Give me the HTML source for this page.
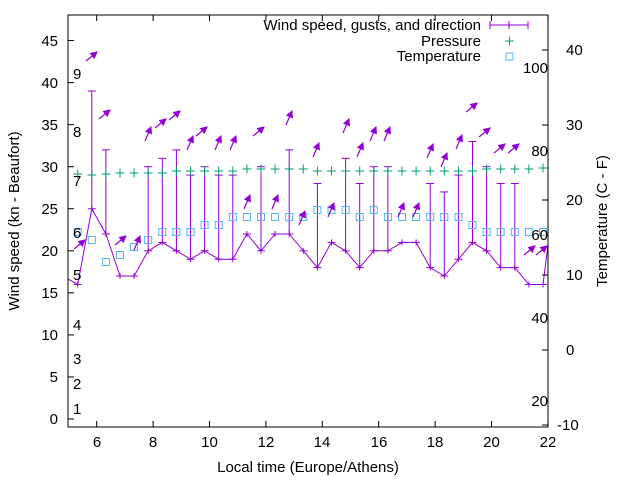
<!DOCTYPE html>
<html><head><meta charset="utf-8"><style>
html,body{margin:0;padding:0;background:#fff;}
svg{display:block;font-family:"Liberation Sans",sans-serif;}
</style></head><body>
<svg id="s" width="640" height="480" viewBox="0 0 640 480" xmlns="http://www.w3.org/2000/svg">
<defs><clipPath id="c"><rect x="68" y="15" width="480" height="412"/></clipPath></defs>
<g id="data" clip-path="url(#c)"></g>
<rect x="68" y="15" width="480" height="412" fill="none" stroke="#000" stroke-width="1"/>
<g id="ticks" stroke="#000" stroke-width="1"></g>
<g font-size="15" fill="#000">
<g text-anchor="end">
<text x="58" y="424">0</text><text x="58" y="382">5</text><text x="58" y="340">10</text><text x="58" y="298">15</text><text x="58" y="256">20</text><text x="58" y="214">25</text><text x="58" y="172">30</text><text x="58" y="130">35</text><text x="58" y="88">40</text><text x="58" y="46">45</text>
</g>
<g text-anchor="start">
<text x="557" y="430">-10</text><text x="566" y="355">0</text><text x="566" y="280">10</text><text x="566" y="205">20</text><text x="566" y="130">30</text><text x="566" y="55">40</text>
</g>
<g text-anchor="middle">
<text x="97" y="447">6</text><text x="153" y="447">8</text><text x="209.5" y="447">10</text><text x="266" y="447">12</text><text x="322" y="447">14</text><text x="379" y="447">16</text><text x="435" y="447">18</text><text x="491.5" y="447">20</text><text x="548" y="447">22</text>
</g>
<g text-anchor="start">
<text x="73" y="414">1</text><text x="73" y="389">2</text><text x="73" y="364">3</text><text x="73" y="330">4</text><text x="73" y="280">5</text><text x="73" y="238">6</text><text x="73" y="186">7</text><text x="73" y="137">8</text><text x="73" y="79">9</text>
</g>
<g text-anchor="end">
<text x="548" y="406">20</text><text x="548" y="323">40</text><text x="548" y="240">60</text><text x="548" y="156">80</text><text x="548" y="73">100</text>
</g>
<text x="308" y="472" text-anchor="middle">Local time (Europe/Athens)</text>
<text transform="translate(19,221) rotate(-90)" text-anchor="middle">Wind speed (kn - Beaufort)</text>
<text transform="translate(607,221) rotate(-90)" text-anchor="middle">Temperature (C - F)</text>
<g text-anchor="end">
<text x="481" y="30">Wind speed, gusts, and direction</text>
<text x="481" y="46">Pressure</text>
<text x="481" y="61">Temperature</text>
</g>
</g>
<g stroke="#9400d3" stroke-width="1" fill="none">
<line x1="490" y1="25" x2="528" y2="25"/><line x1="490" y1="21" x2="490" y2="29"/><line x1="528" y1="21" x2="528" y2="29"/><line x1="509" y1="21" x2="509" y2="29"/>
</g>
<g stroke="#009e73" stroke-width="1"><line x1="505" y1="41" x2="514" y2="41"/><line x1="509.5" y1="36.5" x2="509.5" y2="45.5"/></g>
<rect x="506" y="53" width="7" height="7" fill="none" stroke="#56b4e9" stroke-width="1"/>
</svg>
<script>
var NS="http://www.w3.org/2000/svg";
function el(p,n,a){var e=document.createElementNS(NS,n);for(var k in a)e.setAttribute(k,a[k]);p.appendChild(e);return e;}
var d=document.getElementById("data"),tk=document.getElementById("ticks");
function X(i){return 77.7+14.1*i;}
function Y(v){return 419-8.41*v;}
// ticks
[0,5,10,15,20,25,30,35,40,45].forEach(function(v){var y=Y(v);el(tk,"line",{x1:68,y1:y,x2:74,y2:y});});
[-10,0,10,20,30,40].forEach(function(t){var y=350-7.5*t;el(tk,"line",{x1:542,y1:y,x2:548,y2:y});});
for(var t=6;t<=22;t+=2){var x=96.7+28.2*(t-6);el(tk,"line",{x1:x,y1:427,x2:x,y2:421});el(tk,"line",{x1:x,y1:15,x2:x,y2:21});}
var w=[16,25,22,17,17,20,21,20,19,20,19,19,22,20,22,22,20,18,21,20,18,20,20,21,21,18,17,19,21,20,18,18,16,16];
var g={1:39,2:32,5:30,6:31,7:32,8:29,9:30,10:29,11:29,13:30,15:32,17:28,19:31,20:28,21:30,22:30,25:28,26:27,27:29,28:33,29:30,30:28,31:28};
var p=[174,175,174,173,173,173,173,171,171,171,171,171,169,169,169,169,169,171,171,171,171,171,171,171,171,171,171,171,171,169,169,169,169,168];
var tp=[232,240,262,255,247,240,232,232,232,225,225,217,217,217,217,217,217,210,210,210,217,210,217,217,217,217,217,217,225,232,232,232,232,232];
var ar={0:[85,240],1:[97,52],2:[110,110],3:[126,236],4:[140,236],5:[151,127],6:[166,119],7:[180,111],8:[193,136],9:[207,127],10:[221,136],11:[236,136],12:[250,195],13:[264,127],14:[278,195],15:[292,111],16:[305,211],17:[319,143],18:[334,203],19:[349,119],20:[363,143],21:[376,127],22:[390,127],23:[404,203],24:[419,203],25:[433,144],26:[447,153],27:[462,135],28:[477,103],29:[490,128],30:[505,144],31:[519,144],32:[535,246],33:[547,246]};
var diag={0:1,1:1,2:1,3:1,6:1,7:1,13:1,28:1,29:1,30:1,31:1,32:1,33:1,9:1};
var pts="68,279 ";
for(var i=0;i<w.length;i++)pts+=X(i)+","+Y(w[i])+" ";
pts+="548,245";
var purple="#9400d3";
el(d,"polyline",{points:pts,fill:"none",stroke:purple,"stroke-width":1});
for(var i=0;i<w.length;i++){
 var x=X(i),y=Y(w[i]);
 el(d,"line",{x1:x-4,y1:y,x2:x+4,y2:y,stroke:purple});
 el(d,"line",{x1:x,y1:y-3,x2:x,y2:y+3,stroke:purple});
 if(g[i]){var gy=Y(g[i]);el(d,"line",{x1:x,y1:y,x2:x,y2:gy,stroke:purple});el(d,"line",{x1:x-4,y1:gy,x2:x+4,y2:gy,stroke:purple});}
 el(d,"line",{x1:x-4.5,y1:p[i],x2:x+4.5,y2:p[i],stroke:"#009e73"});
 el(d,"line",{x1:x,y1:p[i]-4.5,x2:x,y2:p[i]+4.5,stroke:"#009e73"});
 el(d,"rect",{x:x-3.5,y:tp[i]-3.5,width:7,height:7,fill:"none",stroke:"#56b4e9"});
 var a=ar[i];if(a){var hx=a[0],hy=a[1];var dx=diag[i]?-11:-6,dy=diag[i]?9:14;var L=Math.sqrt(dx*dx+dy*dy),ux=-dx/L,uy=-dy/L;
  el(d,"line",{x1:hx+dx,y1:hy+dy,x2:hx,y2:hy,stroke:purple,"stroke-width":1.2});
  var bx=hx-ux*6,by=hy-uy*6,nx=-uy,ny=ux;
  el(d,"polygon",{points:hx+","+hy+" "+(bx+nx*3)+","+(by+ny*3)+" "+(bx-nx*3)+","+(by-ny*3),fill:purple,stroke:purple});}
}
</script>
</body></html>
